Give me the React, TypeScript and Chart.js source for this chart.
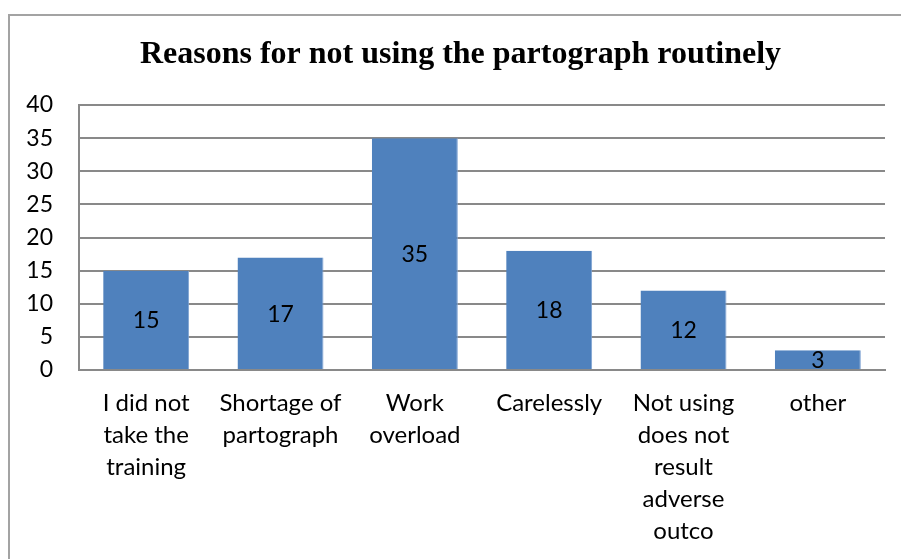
import React, { useEffect, useRef } from "react";
import { Chart, registerables } from "chart.js";

Chart.register(...registerables);

const chartTitle = "Reasons for not using the partograph routinely";
const categories: string[][] = [
  ["I did not", "take the", "training"],
  ["Shortage of", "partograph"],
  ["Work", "overload"],
  ["Carelessly"],
  ["Not using", "does not", "result", "adverse", "outco"],
  ["other"],
];
const counts: number[] = [15, 17, 35, 18, 12, 3];
const yMin = 0;
const yMax = 40;
const yStep = 5;

const LABEL_FONT = "Lato";

const titlePlugin = {
  id: "customTitle",
  afterDraw(chart: any) {
    const ctx = chart.ctx;
    ctx.save();
    ctx.fillStyle = "#000";
    ctx.font = `bold 32px "Liberation Serif"`;
    ctx.textAlign = "center";
    ctx.textBaseline = "alphabetic";
    ctx.fillText(chartTitle, 450.5, 47);
    ctx.restore();
  },
};

const barLabels = {
  id: "barLabels",
  afterDatasetsDraw(chart: any) {
    const ctx = chart.ctx;
    const meta = chart.getDatasetMeta(0);
    const data = chart.data.datasets[0].data as number[];
    ctx.save();
    ctx.fillStyle = "#000";
    ctx.font = `23px ${LABEL_FONT}`;
    ctx.textAlign = "center";
    ctx.textBaseline = "middle";
    meta.data.forEach((el: any, i: number) => {
      const { x, y, base } = el.getProps(["x", "y", "base"], true);
      ctx.fillText(String(data[i]), x, (y + base) / 2 + 1);
    });
    ctx.restore();
  },
};

export default function App() {
  const ref = useRef<HTMLCanvasElement | null>(null);

  useEffect(() => {
    if (!ref.current) return;
    const gridColor = "#898989";
    const chart = new Chart(ref.current, {
      type: "bar",
      data: {
        labels: categories,
        datasets: [
          {
            data: counts,
            backgroundColor: "#4F81BD",
            borderColor: "#7FA3D3",
            borderWidth: { right: 1, left: 0, top: 0, bottom: 0 } as any,
            barPercentage: 0.64,
            categoryPercentage: 1,
          },
        ],
      },
      options: {
        animation: false,
        responsive: false,
        devicePixelRatio: 1,
        layout: { padding: { left: 0, right: 16, top: 89, bottom: 0 } },
        plugins: {
          legend: { display: false },
          tooltip: { enabled: false },
          title: { display: false },
        },
        scales: {
          x: {
            grid: { display: false, drawTicks: false },
            border: { display: true, color: gridColor, width: 2 },
            ticks: {
              color: "#000",
              font: { family: LABEL_FONT, size: 24, lineHeight: 1.333 },
              padding: 17,
              maxRotation: 0,
              autoSkip: false,
            },
            afterFit: (scale: any) => {
              scale.height = 189;
            },
          },
          y: {
            min: yMin,
            max: yMax,
            grid: { color: gridColor, lineWidth: 2, drawTicks: false },
            border: { display: true, color: gridColor, width: 2 },
            ticks: {
              stepSize: yStep,
              color: "#000",
              font: { family: LABEL_FONT, size: 23 },
              padding: 26,
            },
            afterFit: (scale: any) => {
              scale.width = 69;
            },
          },
        },
      },
      plugins: [barLabels, titlePlugin],
    });
    return () => chart.destroy();
  }, []);

  return (
    <div style={{ position: "fixed", left: 0, top: 0, width: 901, height: 559, overflow: "hidden", background: "#fff" }}>
      <div
        style={{
          position: "absolute",
          left: 8,
          top: 14,
          width: 910,
          height: 620,
          border: "2px solid #a3a3a3",
          boxSizing: "border-box",
        }}
      />
      <div style={{ position: "absolute", left: 10, top: 16, width: 891, height: 543 }}>
        <canvas ref={ref} width={891} height={543} style={{ display: "block" }} />
      </div>
    </div>
  );
}
